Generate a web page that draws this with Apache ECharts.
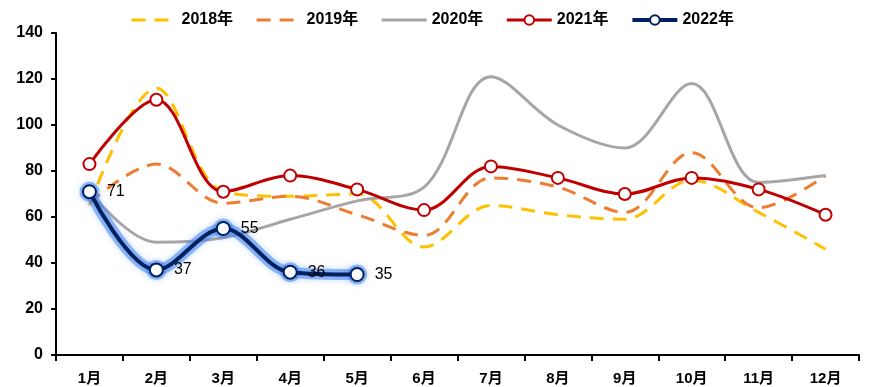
<!DOCTYPE html>
<html><head><meta charset="utf-8">
<script src="https://cdn.jsdelivr.net/npm/echarts@6/dist/echarts.min.js"></script>
<style>html,body{margin:0;padding:0;background:#fff}#c{width:869px;height:387px}</style>
</head><body><div id="c"></div>
<script>
const months = ['1月','2月','3月','4月','5月','6月','7月','8月','9月','10月','11月','12月'];
const yTicks = [0,20,40,60,80,100,120,140];
const s2018 = [65,116,71,69,70,47,65,61,59,76,62,46];
const s2019 = [66,83,66,69,61,52,77,73,62,88,64,78];
const s2020 = [71,49,51,59,67,73,121,100,90,118,75,78];
const s2021 = [83,111,71,78,72,63,82,77,70,77,72,61];
const s2022 = [71,37,55,36,35];
const names = ['2018年','2019年','2020年','2021年','2022年'];

const font = 'Liberation Sans, Arial, "Noto Sans CJK SC", sans-serif';
const glow = 'rgba(70,135,240,0.55)';
const chart = echarts.init(document.getElementById('c'));
chart.setOption({
  animation:false,
  textStyle:{fontFamily:font},
  legend:{
    left:125, top:7, itemWidth:45, itemHeight:12, itemGap:22,
    textStyle:{fontSize:16, fontWeight:'bold', color:'#000', fontFamily:font},
    data:[
      {name:names[0], itemStyle:{opacity:0}, lineStyle:{width:3}},
      {name:names[1], itemStyle:{opacity:0}, lineStyle:{width:3}},
      {name:names[2], itemStyle:{opacity:0}, lineStyle:{width:3}},
      {name:names[3], lineStyle:{width:3}},
      {name:names[4], lineStyle:{width:4}}
    ]
  },
  grid:{left:56, right:10, top:33, bottom:32},
  xAxis:{
    type:'category', data:months, boundaryGap:true,
    axisLine:{lineStyle:{color:'#000', width:2}},
    axisTick:{show:true, length:6, lineStyle:{color:'#000', width:2}},
    axisLabel:{color:'#000', fontSize:15, fontWeight:'bold', margin:16, fontFamily:font}
  },
  yAxis:{
    type:'value', min:yTicks[0], max:yTicks[yTicks.length-1], interval:20,
    axisLine:{show:true, lineStyle:{color:'#000', width:2}},
    axisTick:{show:true, length:5, lineStyle:{color:'#000', width:2}},
    splitLine:{show:false},
    axisLabel:{color:'#000', fontSize:16, fontWeight:'bold', margin:13, fontFamily:font}
  },
  series:[
    {name:names[0], type:'line', data:s2018, smooth:0.35, symbol:'none',
     lineStyle:{color:'#FFC000', width:3, type:[14,9]}, itemStyle:{color:'#FFC000'}, z:2},
    {name:names[1], type:'line', data:s2019, smooth:0.35, symbol:'none',
     lineStyle:{color:'#ED7D31', width:3, type:[14,9]}, itemStyle:{color:'#ED7D31'}, z:2},
    {name:names[2], type:'line', data:s2020, smooth:0.35, symbol:'none',
     lineStyle:{color:'#A6A6A6', width:3}, itemStyle:{color:'#A6A6A6'}, z:2},
    {name:names[3], type:'line', data:s2021, smooth:0.35, symbol:'circle', symbolSize:12,
     lineStyle:{color:'#C00000', width:3}, itemStyle:{color:'#fff', borderColor:'#C00000', borderWidth:2}, z:3},
    {name:'glow', type:'line', data:s2022, smooth:0.35, symbol:'circle', symbolSize:20, silent:true,
     lineStyle:{color:glow, width:11, shadowBlur:6, shadowColor:glow},
     itemStyle:{color:glow, borderWidth:0, shadowBlur:6, shadowColor:glow}, z:3.5},
    {name:names[4], type:'line', data:s2022, smooth:0.35, symbol:'circle', symbolSize:13,
     lineStyle:{color:'#002060', width:4},
     itemStyle:{color:'#fff', borderColor:'#002060', borderWidth:2},
     label:{show:true, position:'right', distance:10, fontSize:16, color:'#000', fontFamily:font},
     z:4}
  ]
});
</script></body></html>
